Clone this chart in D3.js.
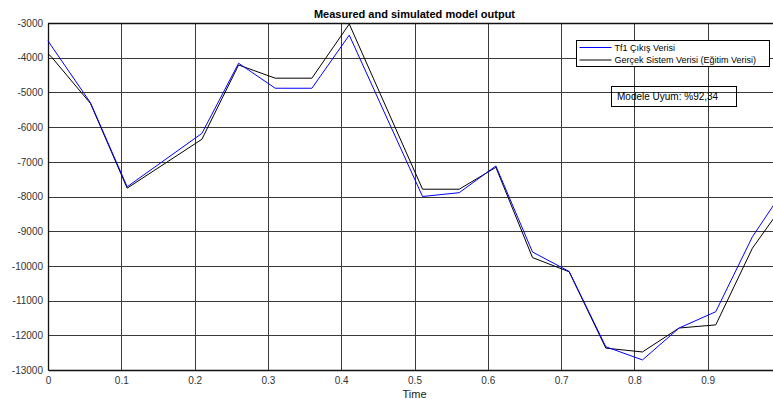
<!DOCTYPE html>
<html>
<head>
<meta charset="utf-8">
<script src="https://cdn.jsdelivr.net/npm/d3@7/dist/d3.min.js"></script>
<style>
  body { margin: 0; background: #fff; }
  svg { display: block; font-family: "Liberation Sans", Arial, sans-serif; }
</style>
</head>
<body>
<div id="chart_container"></div>
<script>
// values
let time_vals = [0, 0.004, 0.058, 0.108, 0.21, 0.26, 0.31, 0.36, 0.411, 0.511, 0.561,
                 0.611, 0.661, 0.711, 0.761, 0.811, 0.861, 0.911, 0.961, 0.99];
let tf1_vals = [-3510, -3640, -5300, -7720, -6180, -4160, -4880, -4880, -3350, -8000, -7890,
                -7120, -9600, -10160, -12330, -12710, -11790, -11320, -9160, -8245];
let real_vals = [-3890, -3960, -5320, -7760, -6350, -4210, -4590, -4590, -3030, -7790, -7790,
                 -7160, -9760, -10170, -12370, -12480, -11790, -11700, -9490, -8630];
let x_ticks = [0, 0.1, 0.2, 0.3, 0.4, 0.5, 0.6, 0.7, 0.8, 0.9];
let y_ticks = [-3000, -4000, -5000, -6000, -7000, -8000, -9000, -10000, -11000, -12000, -13000];
let legend_labels = ["Tf1 Çıkış Verisi", "Gerçek Sistem Verisi (Eğitim Verisi)"];
let fit_text = "Modele Uyum: %92,34";

let chart_margin = { "top": 23, "right": 0, "bottom": 29, "left": 48 };
let svg_width = 773;
let svg_height = 399;
let plot_width = 733;   // axes run to t = 1, cropped by the window
let plot_height = svg_height - chart_margin.top - chart_margin.bottom;

let xscale = d3.scaleLinear().domain([0, 1]).range([0, plot_width]);
let yscale = d3.scaleLinear().domain([-13000, -3000]).range([plot_height, 0]);

let svg = d3.select("#chart_container")
  .append("svg")
    .attr("width", svg_width)
    .attr("height", svg_height);

let plot = svg.append("g")
  .attr("transform", "translate(" + chart_margin.left + "," + chart_margin.top + ")");

// grid
plot.append("g")
  .selectAll("line.vgrid")
  .data(x_ticks.slice(1))
  .join("line")
    .attr("x1", d => Math.round(xscale(d)) + 0.5)
    .attr("x2", d => Math.round(xscale(d)) + 0.5)
    .attr("y1", 0)
    .attr("y2", plot_height)
    .attr("stroke", "#3a3a3a")
    .attr("stroke-width", 1);

plot.append("g")
  .selectAll("line.hgrid")
  .data(y_ticks.slice(1, -1))
  .join("line")
    .attr("x1", 0)
    .attr("x2", plot_width)
    .attr("y1", d => Math.round(yscale(d)) + 0.5)
    .attr("y2", d => Math.round(yscale(d)) + 0.5)
    .attr("stroke", "#3a3a3a")
    .attr("stroke-width", 1);

// axes
let y_axis = d3.axisLeft(yscale).tickValues(y_ticks).tickSize(0).tickPadding(5)
  .tickFormat(d => String(d));
let x_axis = d3.axisBottom(xscale).tickValues(x_ticks).tickSize(0).tickPadding(7)
  .tickFormat(d => String(d));

let gy = plot.append("g").call(y_axis);
let gx = plot.append("g").attr("transform", "translate(0," + plot_height + ")").call(x_axis);

[gy, gx].forEach(function(g) {
  g.select(".domain").attr("stroke", "#111").attr("stroke-width", 1.3);
  g.selectAll("text")
    .attr("font-family", "Liberation Sans, Arial, sans-serif")
    .attr("font-size", 10)
    .attr("fill", "#333");
});

// top border
plot.append("line")
  .attr("x1", 0).attr("x2", plot_width)
  .attr("y1", 0.5).attr("y2", 0.5)
  .attr("stroke", "#111").attr("stroke-width", 1.3);

// series
let line_gen = d3.line()
  .x((d, i) => xscale(time_vals[i]))
  .y(d => yscale(d));

plot.append("path")
  .datum(real_vals)
  .attr("fill", "none")
  .attr("stroke", "#000")
  .attr("stroke-width", 1)
  .attr("d", line_gen);

plot.append("path")
  .datum(tf1_vals)
  .attr("fill", "none")
  .attr("stroke", "#0000ff")
  .attr("stroke-width", 1)
  .attr("d", line_gen);

// title and x label
svg.append("text")
  .attr("x", chart_margin.left + plot_width / 2)
  .attr("y", 18)
  .attr("text-anchor", "middle")
  .attr("font-size", 11)
  .attr("font-weight", "bold")
  .attr("fill", "#000")
  .text("Measured and simulated model output");

svg.append("text")
  .attr("x", chart_margin.left + plot_width / 2)
  .attr("y", 398)
  .attr("text-anchor", "middle")
  .attr("font-size", 11)
  .attr("fill", "#222")
  .text("Time");

// legend
let legend = svg.append("g").attr("transform", "translate(576.5,40.5)");
legend.append("rect")
  .attr("width", 193)
  .attr("height", 26)
  .attr("fill", "#fff")
  .attr("stroke", "#000")
  .attr("stroke-width", 1);

let legend_colors = ["#0000ff", "#000"];
legend_labels.forEach(function(lbl, i) {
  let ly = 7 + i * 12.5;
  legend.append("line")
    .attr("x1", 3).attr("x2", 35)
    .attr("y1", ly).attr("y2", ly)
    .attr("stroke", legend_colors[i]).attr("stroke-width", 1);
  legend.append("text")
    .attr("x", 38)
    .attr("y", ly + 3.3)
    .attr("font-size", 9)
    .attr("fill", "#000")
    .text(lbl);
});

// fit box
let fit_box = svg.append("g").attr("transform", "translate(611.5,86.5)");
fit_box.append("rect")
  .attr("width", 125)
  .attr("height", 20)
  .attr("fill", "#fff")
  .attr("fill-opacity", 0)
  .attr("stroke", "#000")
  .attr("stroke-width", 1);
fit_box.append("text")
  .attr("x", 5.5)
  .attr("y", 13.8)
  .attr("font-size", 10)
  .attr("fill", "#000")
  .text(fit_text);
</script>
</body>
</html>
